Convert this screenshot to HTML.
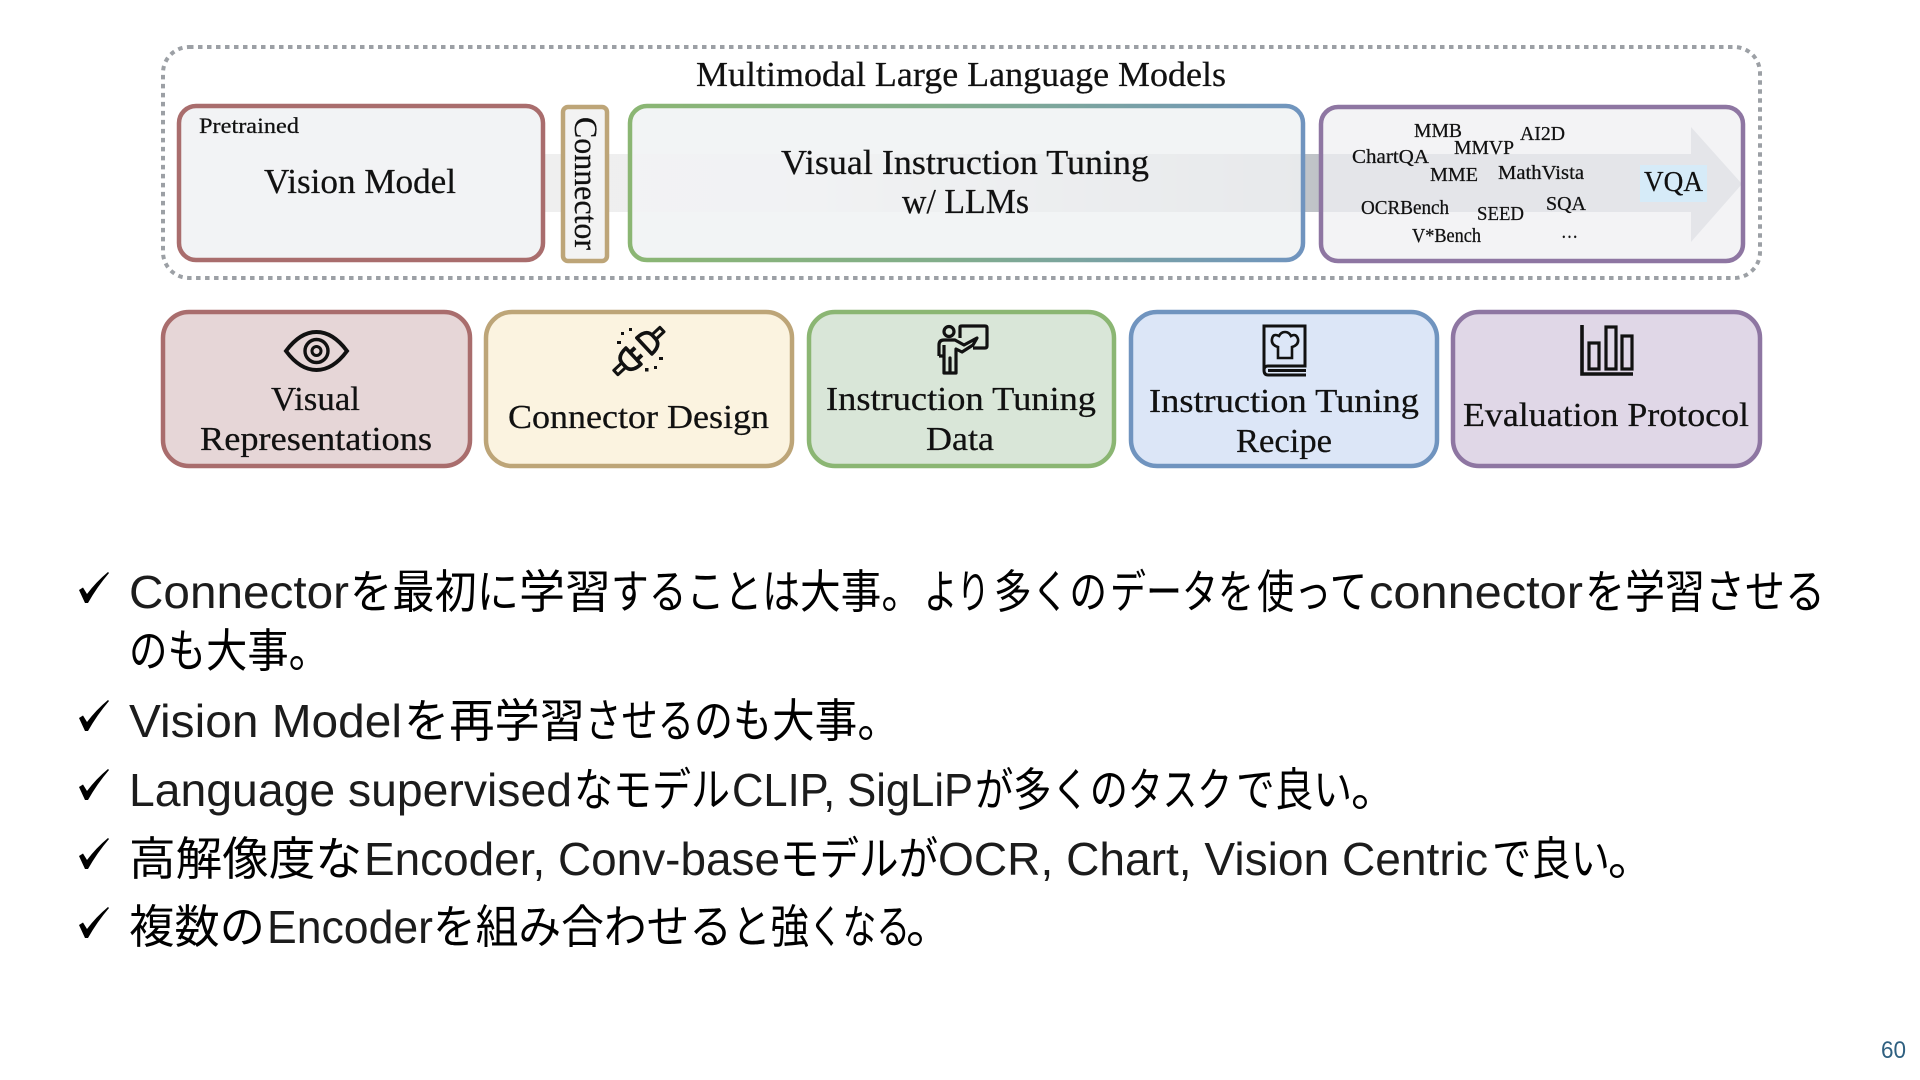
<!DOCTYPE html>
<html lang="ja"><head><meta charset="utf-8"><title>Multimodal LLM</title>
<style>
html,body{margin:0;padding:0;background:#fff;width:1920px;height:1080px;overflow:hidden}
svg{display:block}
.s{font-family:"Liberation Serif",serif;fill:#111;stroke:#111;stroke-width:.25}
.l{font-family:"Liberation Sans",sans-serif;font-size:46px;fill:#1c1c1c}
.j{font-family:"Noto Sans CJK JP",sans-serif;font-size:46px;font-weight:400;fill:#000}
</style></head><body>
<svg width="1920" height="1080" viewBox="0 0 1920 1080" xmlns="http://www.w3.org/2000/svg">
<defs>
<linearGradient id="gb" gradientUnits="userSpaceOnUse" x1="629" y1="0" x2="1305" y2="0"><stop offset="0" stop-color="#8bb673"/><stop offset=".45" stop-color="#82ae8a"/><stop offset="1" stop-color="#7094bf"/></linearGradient>
<linearGradient id="ar" gradientUnits="userSpaceOnUse" x1="545" y1="0" x2="1320" y2="0"><stop offset="0" stop-color="#efefef"/><stop offset=".3" stop-color="#eeeeef"/><stop offset="1" stop-color="#bfc3c8"/></linearGradient>
</defs>
<rect x="163" y="47" width="1597" height="231" rx="26" fill="none" stroke="#9ca0a5" stroke-width="4" stroke-dasharray="4.5 4.5"/>
<rect x="630" y="106" width="673" height="154" rx="17" fill="#f2f3f5"/>
<rect x="1321" y="107" width="422" height="154" rx="17" fill="#f2f3f5"/>
<polygon points="545,154 1691,154 1691,127 1742,184 1691,242 1691,212 545,212" fill="url(#ar)"/>
<rect x="179" y="106" width="364" height="154" rx="17" fill="#f2f3f5" stroke="#a96d6d" stroke-width="4.5"/>
<rect x="563" y="107" width="44" height="154" rx="5" fill="#f3f3f3" stroke="#bda578" stroke-width="4.5"/>
<rect x="630" y="106" width="673" height="154" rx="17" fill="#f2f3f5" fill-opacity=".78" stroke="url(#gb)" stroke-width="4.5"/>
<rect x="1321" y="107" width="422" height="154" rx="17" fill="#f2f3f5" fill-opacity=".72" stroke="#8e76a2" stroke-width="4.5"/>
<text class="s" x="696" y="86" font-size="35" textLength="530" lengthAdjust="spacingAndGlyphs">Multimodal Large Language Models</text>
<text class="s" x="199" y="133" font-size="22" textLength="100" lengthAdjust="spacingAndGlyphs">Pretrained</text>
<text class="s" x="264" y="193" font-size="35" textLength="192" lengthAdjust="spacingAndGlyphs">Vision Model</text>
<text class="s" transform="translate(575,117) rotate(90)" font-size="33" textLength="133" lengthAdjust="spacingAndGlyphs">Connector</text>
<text class="s" x="781" y="174" font-size="35" textLength="368" lengthAdjust="spacingAndGlyphs">Visual Instruction Tuning</text>
<text class="s" x="902" y="213" font-size="35" textLength="127" lengthAdjust="spacingAndGlyphs">w/ LLMs</text>
<g font-size="20">
<text class="s" x="1414" y="137" textLength="48" lengthAdjust="spacingAndGlyphs">MMB</text>
<text class="s" x="1520" y="140" textLength="45" lengthAdjust="spacingAndGlyphs">AI2D</text>
<text class="s" x="1454" y="154" textLength="60" lengthAdjust="spacingAndGlyphs">MMVP</text>
<text class="s" x="1352" y="163" textLength="77" lengthAdjust="spacingAndGlyphs">ChartQA</text>
<text class="s" x="1430" y="181" textLength="48" lengthAdjust="spacingAndGlyphs">MME</text>
<text class="s" x="1498" y="179" textLength="86" lengthAdjust="spacingAndGlyphs">MathVista</text>
<text class="s" x="1361" y="214" textLength="88" lengthAdjust="spacingAndGlyphs">OCRBench</text>
<text class="s" x="1477" y="220" textLength="47" lengthAdjust="spacingAndGlyphs">SEED</text>
<text class="s" x="1546" y="210" textLength="40" lengthAdjust="spacingAndGlyphs">SQA</text>
<text class="s" x="1412" y="242" textLength="69" lengthAdjust="spacingAndGlyphs">V*Bench</text>
<text class="s" x="1561" y="238" textLength="17" lengthAdjust="spacingAndGlyphs">…</text>
</g>
<rect x="1640" y="165" width="67" height="37" fill="#d6ebf8"/>
<text class="s" x="1644" y="191" font-size="28" textLength="59" lengthAdjust="spacingAndGlyphs">VQA</text>

<rect x="163" y="312" width="307" height="154" rx="26" fill="#e6d6d7" stroke="#a96d6d" stroke-width="4.5"/>
<rect x="486" y="312" width="306" height="154" rx="26" fill="#fbf3e0" stroke="#bda578" stroke-width="4.5"/>
<rect x="809" y="312" width="305" height="154" rx="26" fill="#d9e6d8" stroke="#8bb673" stroke-width="4.5"/>
<rect x="1131" y="312" width="306" height="154" rx="26" fill="#dce6f7" stroke="#7094bf" stroke-width="4.5"/>
<rect x="1453" y="312" width="307" height="154" rx="26" fill="#e0d7e7" stroke="#8e76a2" stroke-width="4.5"/>
<g font-size="34">
<text class="s" x="271" y="410" textLength="89" lengthAdjust="spacingAndGlyphs">Visual</text>
<text class="s" x="200" y="450" textLength="232" lengthAdjust="spacingAndGlyphs">Representations</text>
<text class="s" x="508" y="428" textLength="261" lengthAdjust="spacingAndGlyphs">Connector Design</text>
<text class="s" x="826" y="410" textLength="270" lengthAdjust="spacingAndGlyphs">Instruction Tuning</text>
<text class="s" x="926" y="450" textLength="68" lengthAdjust="spacingAndGlyphs">Data</text>
<text class="s" x="1149" y="412" textLength="270" lengthAdjust="spacingAndGlyphs">Instruction Tuning</text>
<text class="s" x="1236" y="452" textLength="96" lengthAdjust="spacingAndGlyphs">Recipe</text>
<text class="s" x="1463" y="426" textLength="286" lengthAdjust="spacingAndGlyphs">Evaluation Protocol</text>
</g>
<!-- eye -->
<g fill="none" stroke="#111">
<path d="M286 351 Q300 332 316.5 332 Q333 332 347 351 Q333 370 316.5 370 Q300 370 286 351Z" stroke-width="4"/>
<circle cx="316.5" cy="351" r="11.5" stroke-width="3.4"/>
<circle cx="316.5" cy="351" r="4.5" stroke-width="3"/>
</g>
<!-- plug -->
<g transform="translate(640,350) rotate(47)" stroke="#111" fill="none" stroke-width="3.6" stroke-linejoin="round">
<path d="M-11 -6 H11 Q11 -19 2 -19 H-2 Q-11 -19 -11 -6Z"/>
<rect x="-3" y="-30" width="6" height="11" stroke-width="3"/>
<path d="M-11 9 H11 Q11 22 2 22 H-2 Q-11 22 -11 9Z"/>
<path d="M-5 9 V2 M5 9 V2" stroke-width="4"/>
<rect x="-3" y="22" width="6" height="11" stroke-width="3"/>
</g>
<g fill="#111"><rect x="621" y="332" width="3" height="3"/><rect x="617" y="341" width="4" height="3"/><rect x="629" y="328" width="3" height="3"/><rect x="659" y="357" width="4" height="3"/><rect x="645" y="368" width="3.5" height="3.5"/><rect x="654" y="366" width="3" height="3"/></g>
<!-- teacher -->
<g fill="none" stroke="#111" stroke-width="3.2" stroke-linejoin="round">
<circle cx="949" cy="331.5" r="5"/>
<path d="M960 338 V327 Q960 326 962 326 H985 Q987 326 987 328 V346 Q987 348 985 348 H973"/>
<path d="M939 356 V345 Q939 340 944 340 H955 L964 345 L977 338 L973 345 L962 352 L956 349 V373 H950 V358 V373 H944 V349 M944 345 V356 H939"/>
</g>
<!-- book -->
<g fill="none" stroke="#111" stroke-width="3">
<path d="M1264 370 V326 H1305 V366 H1268 Q1264 366 1264 370 Q1264 375 1268 375 H1306 M1268 370.5 H1306"/>
<path d="M1278 358 H1292 V347 Q1299 345 1298 339 Q1296 333 1291 336 Q1289 332 1285 332 Q1281 332 1279 336 Q1273 333 1272 339 Q1271 345 1278 347Z" stroke-width="2.6"/>
</g>
<!-- chart -->
<g fill="none" stroke="#111" stroke-width="3.2">
<path d="M1582 325 V374 H1633" stroke-width="3.6"/>
<rect x="1589" y="343" width="10" height="26"/><rect x="1606" y="327" width="10" height="42"/><rect x="1622" y="336" width="10" height="33"/>
</g>

<!-- bullets -->
<g fill="#000">
<path d="M79 590 L83 587.5 L87 594 Q96 582 108 572 L109 573 Q97 587 88 603 L85 603 Z"/>
<path transform="translate(0,128)" d="M79 590 L83 587.5 L87 594 Q96 582 108 572 L109 573 Q97 587 88 603 L85 603 Z"/>
<path transform="translate(0,197)" d="M79 590 L83 587.5 L87 594 Q96 582 108 572 L109 573 Q97 587 88 603 L85 603 Z"/>
<path transform="translate(0,266)" d="M79 590 L83 587.5 L87 594 Q96 582 108 572 L109 573 Q97 587 88 603 L85 603 Z"/>
<path transform="translate(0,335)" d="M79 590 L83 587.5 L87 594 Q96 582 108 572 L109 573 Q97 587 88 603 L85 603 Z"/>
</g>
<!-- line 1 -->
<text class="l" x="129" y="608" textLength="220" lengthAdjust="spacingAndGlyphs">Connector</text>
<text class="j" x="350" y="608" textLength="169" lengthAdjust="spacingAndGlyphs">を最初に</text>
<text class="j" x="519" y="608" textLength="92" lengthAdjust="spacingAndGlyphs">学習</text>
<text class="j" x="611" y="608" textLength="189" lengthAdjust="spacingAndGlyphs">することは</text>
<text class="j" x="800" y="608" textLength="122" lengthAdjust="spacingAndGlyphs">大事。</text>
<text class="j" x="924" y="608" textLength="66" lengthAdjust="spacingAndGlyphs">より</text>
<text class="j" x="994" y="608" textLength="113" lengthAdjust="spacingAndGlyphs">多くの</text>
<text class="j" x="1110" y="608" textLength="144" lengthAdjust="spacingAndGlyphs">データを</text>
<text class="j" x="1257" y="608" textLength="110" lengthAdjust="spacingAndGlyphs">使って</text>
<text class="l" x="1369" y="608" textLength="214" lengthAdjust="spacingAndGlyphs">connector</text>
<text class="j" x="1585" y="608" textLength="240" lengthAdjust="spacingAndGlyphs">を学習させる</text>
<!-- line 2 -->
<text class="j" x="129" y="667" textLength="77" lengthAdjust="spacingAndGlyphs">のも</text>
<text class="j" x="206" y="667" textLength="124" lengthAdjust="spacingAndGlyphs">大事。</text>
<!-- line 3 -->
<text class="l" x="129" y="737" textLength="273" lengthAdjust="spacingAndGlyphs">Vision Model</text>
<text class="j" x="404" y="737" textLength="181" lengthAdjust="spacingAndGlyphs">を再学習</text>
<text class="j" x="585" y="737" textLength="109" lengthAdjust="spacingAndGlyphs">させる</text>
<text class="j" x="694" y="737" textLength="78" lengthAdjust="spacingAndGlyphs">のも</text>
<text class="j" x="772" y="737" textLength="128" lengthAdjust="spacingAndGlyphs">大事。</text>
<!-- line 4 -->
<text class="l" x="129" y="806" textLength="443" lengthAdjust="spacingAndGlyphs">Language supervised</text>
<text class="j" x="574" y="806" textLength="156" lengthAdjust="spacingAndGlyphs">なモデル</text>
<text class="l" x="732" y="806" textLength="241" lengthAdjust="spacingAndGlyphs">CLIP, SigLiP</text>
<text class="j" x="975" y="806" textLength="153" lengthAdjust="spacingAndGlyphs">が多くの</text>
<text class="j" x="1128" y="806" textLength="104" lengthAdjust="spacingAndGlyphs">タスク</text>
<text class="j" x="1236" y="806" textLength="116" lengthAdjust="spacingAndGlyphs">で良い</text>
<text class="j" x="1351" y="806">。</text>
<!-- line 5 -->
<text class="j" x="129" y="875" textLength="233" lengthAdjust="spacingAndGlyphs">高解像度な</text>
<text class="l" x="364" y="875" textLength="416" lengthAdjust="spacingAndGlyphs">Encoder, Conv-base</text>
<text class="j" x="780" y="875" textLength="158" lengthAdjust="spacingAndGlyphs">モデルが</text>
<text class="l" x="938" y="875" textLength="550" lengthAdjust="spacingAndGlyphs">OCR, Chart, Vision Centric</text>
<text class="j" x="1492" y="875" textLength="118" lengthAdjust="spacingAndGlyphs">で良い</text>
<text class="j" x="1608" y="875">。</text>
<!-- line 6 -->
<text class="j" x="129" y="943" textLength="136" lengthAdjust="spacingAndGlyphs">複数の</text>
<text class="l" x="267" y="943" textLength="166" lengthAdjust="spacingAndGlyphs">Encoder</text>
<text class="j" x="433" y="943" textLength="299" lengthAdjust="spacingAndGlyphs">を組み合わせる</text>
<text class="j" x="732" y="943" textLength="77" lengthAdjust="spacingAndGlyphs">と強</text>
<text class="j" x="809" y="943" textLength="101" lengthAdjust="spacingAndGlyphs">くなる</text>
<text class="j" x="906" y="943">。</text>
<text x="1881" y="1058" font-size="24" font-family="'Liberation Sans',sans-serif" fill="#2f6080" textLength="25" lengthAdjust="spacingAndGlyphs">60</text>
</svg>
</body></html>
